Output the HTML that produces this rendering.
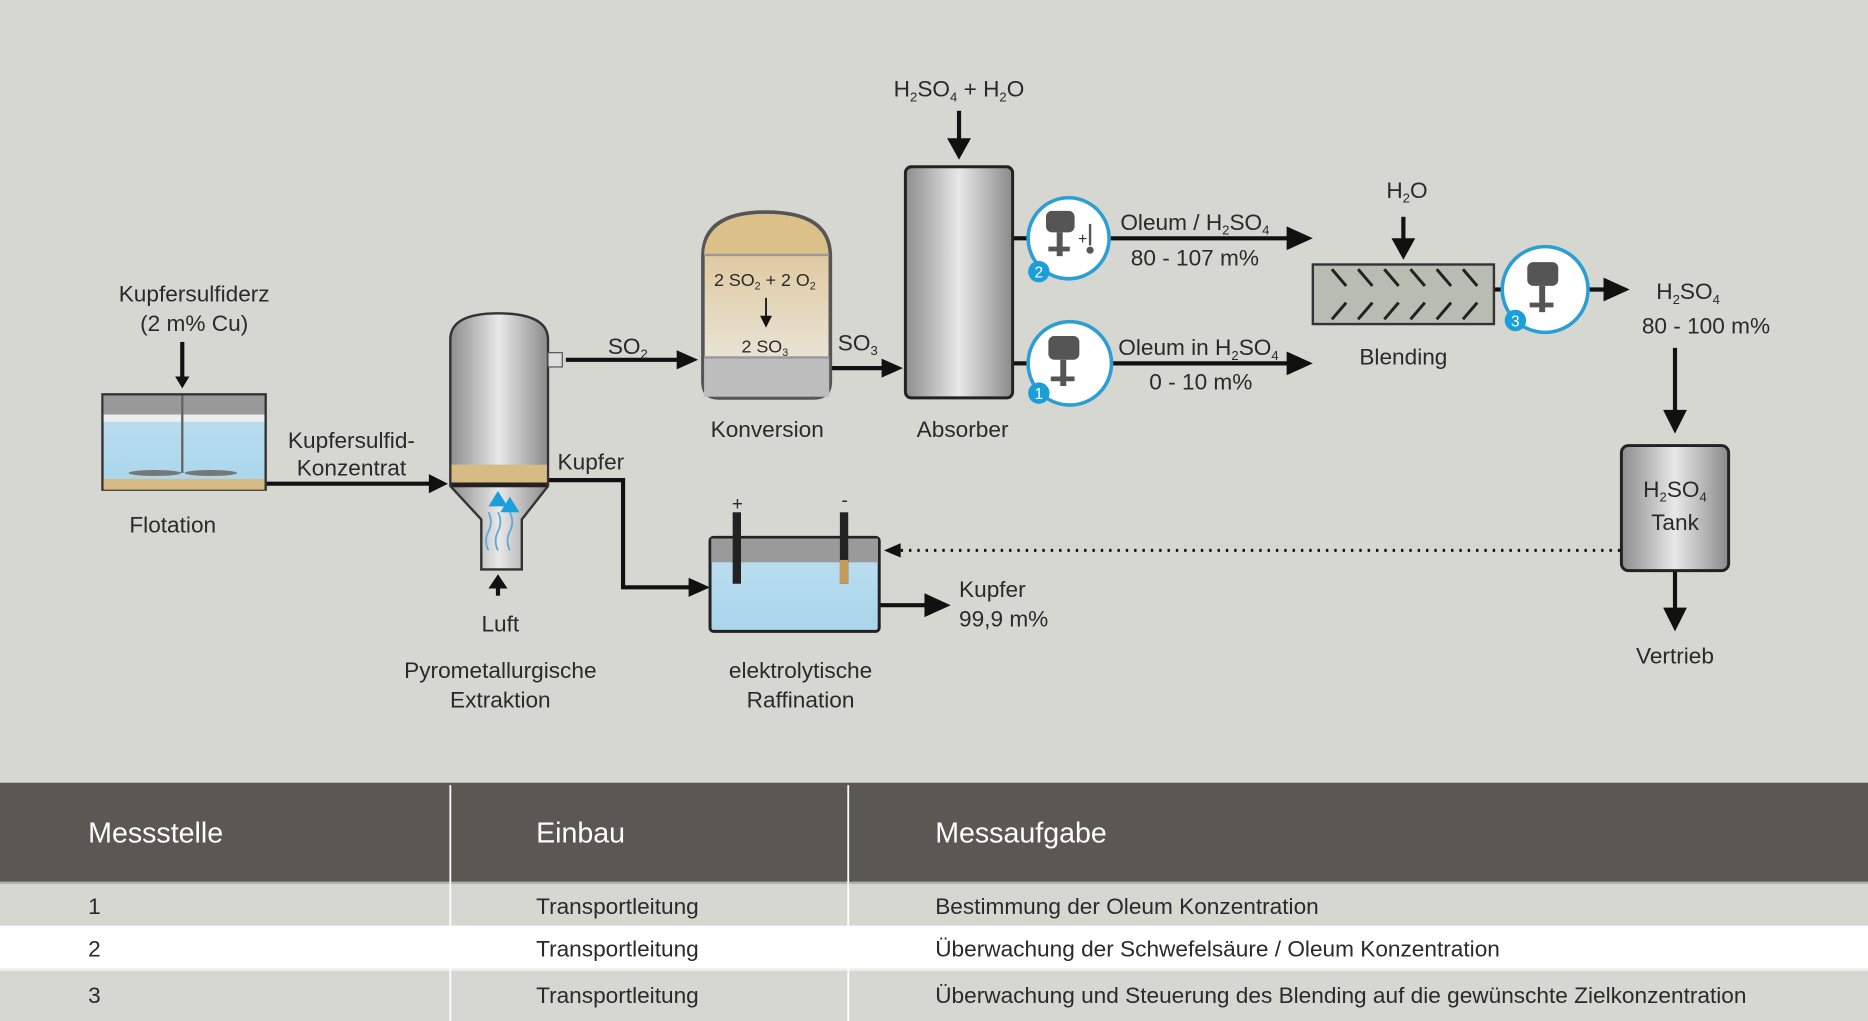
<!DOCTYPE html>
<html><head><meta charset="utf-8"><style>
html,body{margin:0;padding:0;background:#d6d7d1;}
svg{display:block;}
text{font-family:"Liberation Sans",sans-serif;fill:#2a2a2a;}
</style></head><body>
<svg width="1868" height="1021" viewBox="0 0 1568 857" preserveAspectRatio="none" xmlns="http://www.w3.org/2000/svg">
<defs>
<linearGradient id="metal" x1="0" x2="1" y1="0" y2="0">
<stop offset="0" stop-color="#8d8d8d"/><stop offset="0.5" stop-color="#e8e8e8"/><stop offset="1" stop-color="#8a8a8a"/></linearGradient>
<linearGradient id="conv" x1="0" x2="0" y1="0" y2="1">
<stop offset="0" stop-color="#dcc08a"/><stop offset="1" stop-color="#ececea"/></linearGradient>
<linearGradient id="water" x1="0" x2="0" y1="0" y2="1">
<stop offset="0" stop-color="#bfe0f0"/><stop offset="1" stop-color="#a9d5ea"/></linearGradient>
<marker id="ah" markerWidth="10" markerHeight="10" refX="8" refY="5" orient="auto" markerUnits="userSpaceOnUse" viewBox="0 0 10 10"><path d="M0,0 L10,5 L0,10z" fill="#111"/></marker>
</defs>
<rect width="1568" height="857" fill="#d6d7d1"/>
<g stroke="#111" stroke-width="3.5" fill="none">
<!-- arrows -->
<path d="M153 287 V318"/><path d="M147 316 L153 326 L159 316z" fill="#111" stroke="none"/>
<path d="M223 406 H362"/><path d="M360 398 L376 406 L360 414z" fill="#111" stroke="none"/>
<path d="M475 302 H570"/><path d="M568 294 L586 302 L568 310z" fill="#111" stroke="none"/>
<path d="M697 309 H742"/><path d="M740 301 L758 309 L740 317z" fill="#111" stroke="none"/>
<path d="M805 93 V120"/><path d="M795 116 L805 134 L815 116z" fill="#111" stroke="none"/>
<path d="M851 200 H863"/><path d="M931 200 H1082"/><path d="M1080 190 L1102 200 L1080 210z" fill="#111" stroke="none"/>
<path d="M851 305 H863"/><path d="M933 305 H1082"/><path d="M1080 295 L1102 305 L1080 315z" fill="#111" stroke="none"/>
<path d="M1178 182 V205"/><path d="M1168 200 L1178 218 L1188 200z" fill="#111" stroke="none"/>
<path d="M1254 243 H1262"/><path d="M1333 243 H1350"/><path d="M1346 233 L1368 243 L1346 253z" fill="#111" stroke="none"/>
<path d="M1406 292 V350"/><path d="M1396 344 L1406 364 L1416 344z" fill="#111" stroke="none"/>
<path d="M1406 480 V512"/><path d="M1396 510 L1406 530 L1416 510z" fill="#111" stroke="none"/>
<path d="M418 492 V500"/><path d="M410 494 L418 482 L426 494z" fill="#111" stroke="none"/>
<path d="M460 403 H523 V493 H580"/><path d="M578 485 L596 493 L578 501z" fill="#111" stroke="none"/>
<path d="M738 508 H780"/><path d="M776 498 L798 508 L776 518z" fill="#111" stroke="none"/>
<path d="M1360 462 H752" stroke-width="2.5" stroke-dasharray="2,5"/><path d="M756 456 L742 462 L756 468z" fill="#111" stroke="none"/>
</g>
<!-- flotation -->
<rect x="86" y="331" width="137" height="80" fill="url(#water)" stroke="#333" stroke-width="2"/>
<rect x="87" y="332" width="135" height="16" fill="#999"/>
<rect x="87" y="348" width="135" height="6" fill="#eee"/>
<rect x="87" y="402" width="135" height="9" fill="#d7bb84"/>
<line x1="153" y1="332" x2="153" y2="397" stroke="#666" stroke-width="2"/>
<ellipse cx="130" cy="397" rx="22" ry="2.5" fill="#777"/><ellipse cx="177" cy="397" rx="22" ry="2.5" fill="#777"/>
<!-- pyrometallurgy -->
<path d="M378 285 Q378 263 418 263 Q460 263 460 285 V408 L438 436 V478 H404 V436 L378 408Z" fill="url(#metal)" stroke="#333" stroke-width="2"/>
<rect x="379" y="390" width="80" height="15" fill="#d7bb84"/>
<rect x="379" y="405" width="80" height="4" fill="#222"/>
<rect x="460" y="296" width="12" height="12" fill="#ddd" stroke="#555"/>
<path d="M410 425 L418 412 L426 425z M420 430 L428 417 L436 430z" fill="#1a9fd8"/>
<path d="M410 430 q4 8 0 16 q-4 8 0 16 M418 430 q4 8 0 16 q-4 8 0 16 M428 430 q4 8 0 16 q-4 8 0 16" stroke="#5aa9d8" fill="none" stroke-width="1.5"/>
<!-- conversion -->
<path d="M590 215 Q590 178 643 178 Q697 178 697 215 V320 Q697 334 683 334 H603 Q590 334 590 320Z" fill="url(#conv)" stroke="#555" stroke-width="3"/>
<path d="M591 213 Q593 180 643 180 Q695 180 695 213Z" fill="#dcc08a"/>
<line x1="591" y1="214" x2="696" y2="214" stroke="#999" stroke-width="2"/>
<rect x="591" y="300" width="105" height="33" fill="#bdbdbd"/>
<line x1="591" y1="300" x2="696" y2="300" stroke="#999" stroke-width="2"/>
<path d="M643 250 V268" stroke="#111" stroke-width="1.5"/><path d="M638 265 L643 275 L648 265z" fill="#111"/>
<!-- absorber -->
<rect x="760" y="140" width="90" height="194" rx="5" fill="url(#metal)" stroke="#222" stroke-width="2.5"/>
<!-- blending -->
<rect x="1102" y="222" width="152" height="50" fill="#b8bcb3" stroke="#333" stroke-width="2"/>
<g stroke="#222" stroke-width="2.5">
<path d="M1118 226 l12 14 M1140 226 l12 14 M1162 226 l12 14 M1184 226 l12 14 M1206 226 l12 14 M1228 226 l12 14"/>
<path d="M1118 268 l12 -14 M1140 268 l12 -14 M1162 268 l12 -14 M1184 268 l12 -14 M1206 268 l12 -14 M1228 268 l12 -14"/>
</g>
<!-- tank -->
<rect x="1361" y="374" width="90" height="105" rx="6" fill="url(#metal)" stroke="#222" stroke-width="2.5"/>
<!-- electrolysis -->
<rect x="596" y="451" width="142" height="79" rx="3" fill="url(#water)" stroke="#222" stroke-width="2.5"/>
<rect x="597" y="452" width="140" height="20" fill="#9a9a9a"/>
<rect x="615" y="430" width="7" height="60" fill="#222"/>
<rect x="705" y="430" width="7" height="60" fill="#222"/>
<rect x="705" y="470" width="7" height="20" fill="#c49a5a"/>
<!-- sensors -->
<g stroke="#2b9ed3" stroke-width="3" fill="#fff">
<circle cx="897" cy="200" r="34"/><circle cx="898" cy="305" r="35"/><circle cx="1297" cy="243" r="36"/>
</g>
<g fill="#555">
<rect x="878" y="177" width="24" height="18" rx="5"/><rect x="887" y="195" width="5" height="20"/><rect x="880" y="207" width="18" height="4"/>
<rect x="880" y="282" width="26" height="20" rx="5"/><rect x="890" y="302" width="5" height="22"/><rect x="882" y="316" width="20" height="4"/>
<rect x="1282" y="220" width="26" height="20" rx="5"/><rect x="1292" y="240" width="5" height="22"/><rect x="1284" y="254" width="20" height="4"/>
<rect x="914" y="188" width="2" height="18"/><circle cx="915" cy="210" r="3"/>
</g>
<text x="905" y="205" font-size="13">+</text>
<g fill="#1a9fd8"><circle cx="872" cy="228" r="9"/><circle cx="872" cy="330" r="9"/><circle cx="1272" cy="269" r="9"/></g>
<g font-size="13" text-anchor="middle"><text x="872" y="233" style="fill:#fff">2</text><text x="872" y="335" style="fill:#fff">1</text><text x="1272" y="274" style="fill:#fff">3</text></g>
<!-- labels -->
<g font-size="19" text-anchor="middle">
<text x="163" y="253">Kupfersulfiderz</text><text x="163" y="278">(2 m% Cu)</text>
<text x="145" y="447">Flotation</text>
<text x="295" y="376">Kupfersulfid-</text><text x="295" y="399">Konzentrat</text>
<text x="420" y="530">Luft</text>
<text x="420" y="569">Pyrometallurgische</text><text x="420" y="594">Extraktion</text>
<text x="496" y="394">Kupfer</text>
<text x="527" y="297">SO<tspan font-size="11" dy="4">2</tspan></text>
<text x="720" y="294">SO<tspan font-size="11" dy="4">3</tspan></text>
<text x="644" y="367">Konversion</text>
<text x="808" y="367">Absorber</text>
<text x="805" y="81">H<tspan font-size="11" dy="4">2</tspan><tspan dy="-4">SO</tspan><tspan font-size="11" dy="4">4</tspan><tspan dy="-4"> + H</tspan><tspan font-size="11" dy="4">2</tspan><tspan dy="-4">O</tspan></text>
<text x="1003" y="193">Oleum / H<tspan font-size="11" dy="4">2</tspan><tspan dy="-4">SO</tspan><tspan font-size="11" dy="4">4</tspan></text>
<text x="1003" y="223">80 - 107 m%</text>
<text x="1006" y="298">Oleum in H<tspan font-size="11" dy="4">2</tspan><tspan dy="-4">SO</tspan><tspan font-size="11" dy="4">4</tspan></text>
<text x="1008" y="327">0 - 10 m%</text>
<text x="1181" y="166">H<tspan font-size="11" dy="4">2</tspan><tspan dy="-4">O</tspan></text>
<text x="1178" y="306">Blending</text>
<text x="1417" y="251">H<tspan font-size="11" dy="4">2</tspan><tspan dy="-4">SO</tspan><tspan font-size="11" dy="4">4</tspan></text>
<text x="1432" y="280">80 - 100 m%</text>
<text x="1406" y="417">H<tspan font-size="11" dy="4">2</tspan><tspan dy="-4">SO</tspan><tspan font-size="11" dy="4">4</tspan></text>
<text x="1406" y="445">Tank</text>
<text x="1406" y="557">Vertrieb</text>
<text x="672" y="569">elektrolytische</text><text x="672" y="594">Raffination</text>
<text x="619" y="428" font-size="16">+</text><text x="709" y="425" font-size="16">-</text>
</g>
<g font-size="19"><text x="805" y="501">Kupfer</text><text x="805" y="526">99,9 m%</text></g>
<g font-size="15" text-anchor="middle" style="fill:#333">
<text x="642" y="240">2 SO<tspan font-size="9" dy="3">2</tspan><tspan dy="-3"> + 2 O</tspan><tspan font-size="9" dy="3">2</tspan></text>
<text x="642" y="296">2 SO<tspan font-size="9" dy="3">3</tspan></text>
</g>
<!-- table -->
<rect x="0" y="657" width="1568" height="84" fill="#5a5853"/>
<rect x="0" y="741" width="1568" height="36" fill="#d6d7d1"/>
<rect x="0" y="777" width="1568" height="36" fill="#ffffff"/>
<rect x="0" y="813" width="1568" height="44" fill="#d6d7d1"/>
<line x1="0" y1="741" x2="1568" y2="741" stroke="#b0b0a8" stroke-width="2"/>
<line x1="0" y1="814" x2="1568" y2="814" stroke="#eee" stroke-width="2"/>
<g stroke="#fff" stroke-width="1.5"><line x1="378" y1="659" x2="378" y2="857"/><line x1="712" y1="659" x2="712" y2="857"/></g>
<g font-size="24" style="fill:#fff"><text x="74" y="707" style="fill:#fff">Messstelle</text><text x="450" y="707" style="fill:#fff">Einbau</text><text x="785" y="707" style="fill:#fff">Messaufgabe</text></g>
<g font-size="19" style="fill:#333">
<text x="74" y="767">1</text><text x="450" y="767">Transportleitung</text><text x="785" y="767">Bestimmung der Oleum Konzentration</text>
<text x="74" y="803">2</text><text x="450" y="803">Transportleitung</text><text x="785" y="803">Überwachung der Schwefelsäure / Oleum Konzentration</text>
<text x="74" y="842">3</text><text x="450" y="842">Transportleitung</text><text x="785" y="842">Überwachung und Steuerung des Blending auf die gewünschte Zielkonzentration</text>
</g>
</svg>
</body></html>
